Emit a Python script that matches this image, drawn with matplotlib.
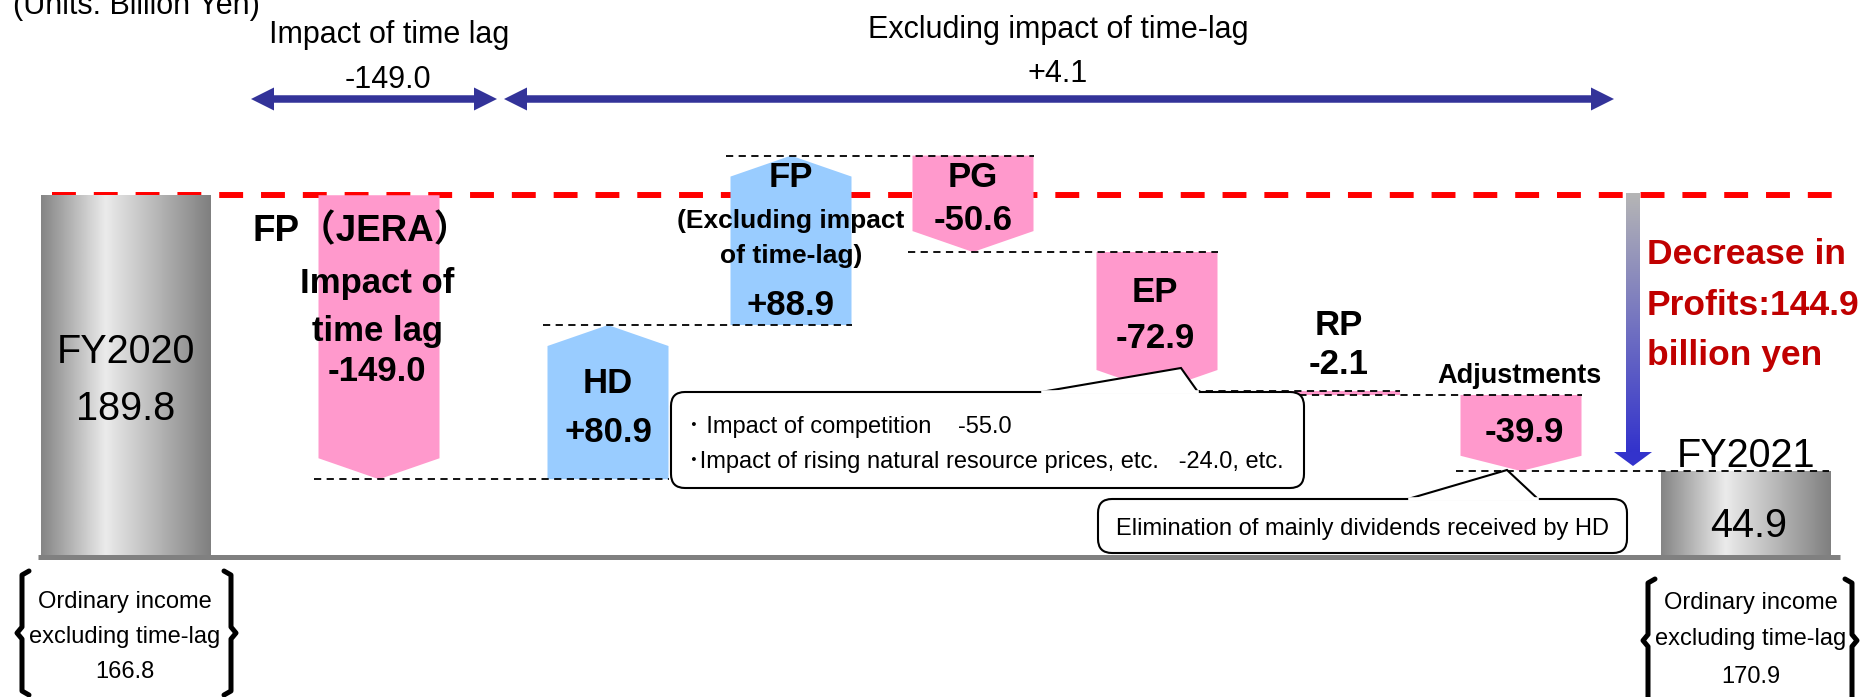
import numpy as np
import matplotlib.pyplot as plt
from matplotlib.patches import Polygon, FancyBboxPatch

plt.rcParams['font.family'] = ['Liberation Sans', 'Noto Sans CJK JP']

# ordinary income bridge FY2020 -> FY2021 (billion yen)
start_label, start_value = 'FY2020', 189.8
end_label, end_value = 'FY2021', 44.9
steps = ['FP（JERA）', 'HD', 'FP', 'PG', 'EP', 'RP', 'Adjustments']
deltas = [-149.0, 80.9, 88.9, -50.6, -72.9, -2.1, -39.9]
lag_impact = -149.0
ex_lag_impact = 4.1
profit_drop = 144.9
ex_lag_income = [166.8, 170.9]
ep_breakdown = [('Impact of competition', -55.0),
                ('Impact of rising natural resource prices, etc.', -24.0)]
adj_note = 'Elimination of mainly dividends received by HD'

W, H = 1872, 697
PX = 1.906      # pixels per billion yen
BASE = 557      # pixel row of the zero line

centers = [126, 379, 608, 791, 973, 1157, 1339, 1521, 1746]
bar_w = 121
cyl_w = 170
tips = [11, 11, 11, 11, 11, 0, 8]
PINK, BLUE, NAVY = '#ff99cc', '#99ccff', '#333399'
BIG = 25        # bold step labels
FY = 28.5

fig = plt.figure(figsize=(W / 100, H / 100), dpi=100)
ax = fig.add_axes([0, 0, 1, 1])
ax.axis('off')


def cylinder(xc, v):
    prof = np.interp(np.linspace(0, 1, 256), [0, 0.38, 1], [0.52, 0.92, 0.5])
    ax.imshow(prof[None, :], cmap='gray', vmin=0, vmax=1, aspect='auto',
              extent=(xc - cyl_w / 2, xc + cyl_w / 2, 0, v),
              interpolation='bilinear', zorder=2)


# red reference line at FY2020 level
ax.plot([52, 1840], [start_value, start_value], color='red', lw=4.3,
        ls=(0, (4, 3)), zorder=1)

cylinder(centers[0], start_value)
cylinder(centers[-1], end_value)

level = start_value
levels = []
for d, xc, tip in zip(deltas, centers[1:-1], tips):
    new = level + d
    l, r = xc - bar_w / 2, xc + bar_w / 2
    if d > 0:
        pts = [(l, level), (r, level), (r, new - tip), (xc, new), (l, new - tip)]
        col = BLUE
    else:
        pts = [(l, level), (r, level), (r, new + tip), (xc, new), (l, new + tip)]
        col = PINK
    ax.add_patch(Polygon(pts, closed=True, fc=col, ec='none', zorder=2))
    levels.append(new)
    level = new

# dashed connectors
rights = [c + bar_w / 2 for c in centers[2:-1]] + [centers[-1] + cyl_w / 2 - 2]
for i, lv in enumerate(levels):
    ax.plot([centers[i + 1] - bar_w / 2 - 5, rights[i]], [lv, lv], color='black',
            lw=1.3, ls=(0, (4, 3)), zorder=3)

ax.plot([38, 1840], [0, 0], color='#808080', lw=3.6, zorder=3, solid_capstyle='butt')
ax.set_xlim(0, W)
ax.set_ylim((BASE - H) / PX, BASE / PX)

# overlay in pixel units for labels, arrows and notes
dx = fig.add_axes([0, 0, 1, 1])
dx.axis('off')


def txt(x, y, s, size, bold=False, ha='center', color='black'):
    dx.text(x, y, s, fontsize=size, fontweight='bold' if bold else 'normal',
            ha=ha, va='baseline', color=color, zorder=8)


def double_arrow(x0, x1, y, hl=23, hw=11.5):
    dx.plot([x0 + hl - 1, x1 - hl + 1], [y, y], color=NAVY, lw=5.4, solid_capstyle='butt')
    dx.add_patch(Polygon([(x0, y), (x0 + hl, y - hw), (x0 + hl, y + hw)], fc=NAVY, ec='none'))
    dx.add_patch(Polygon([(x1, y), (x1 - hl, y - hw), (x1 - hl, y + hw)], fc=NAVY, ec='none'))


def callout(x0, y0, x1, y1, b0, b1, tip):
    dx.add_patch(FancyBboxPatch((x0, y0), x1 - x0, y1 - y0,
                                boxstyle='round,pad=0,rounding_size=14',
                                fc='white', ec='black', lw=1.5, zorder=4))
    dx.add_patch(Polygon([(b0, y0), tip, (b1, y0)], closed=False, fc='white',
                         ec='black', lw=1.5, zorder=5))
    dx.plot([b0 + 1.5, b1 - 1.5], [y0, y0], color='white', lw=2.6, zorder=6)


def bracket(x, y0, y1, s):
    m = (y0 + y1) / 2
    pts = [(x + 7 * s, y0), (x, y0 + 4), (x, m - 6), (x - 5 * s, m),
           (x, m + 6), (x, y1 - 4), (x + 7 * s, y1)]
    dx.plot(*zip(*pts), color='black', lw=3.6, solid_joinstyle='round',
            solid_capstyle='round')


# header
txt(13, 14, '(Units: Billion Yen)', 22, ha='left')
txt(389, 43, 'Impact of time lag', 22)
txt(388, 88, f'{lag_impact:.1f}', 22)
txt(1058, 38, 'Excluding impact of time-lag', 22)
txt(1058, 82, f'{ex_lag_impact:+.1f}', 22)
double_arrow(251, 497, 99)
double_arrow(504, 1614, 99)

# bar labels
txt(centers[0], 363, start_label, FY)
txt(centers[0], 420, f'{start_value:.1f}', FY)
txt(362, 241, steps[0], 26.5, True)
txt(377, 293, 'Impact of', BIG, True)
txt(377, 341, 'time lag', BIG, True)
txt(377, 381, f'{deltas[0]:+.1f}', BIG, True)
txt(centers[2], 393, steps[1], BIG, True)
txt(centers[2], 442, f'{deltas[1]:+.1f}', BIG, True)
txt(centers[3], 187, steps[2], BIG, True)
txt(centers[3], 228, '(Excluding impact', 19, True)
txt(centers[3], 263, 'of time-lag)', 19, True)
txt(centers[3], 315, f'{deltas[2]:+.1f}', BIG, True)
txt(centers[4], 187, steps[3], BIG, True)
txt(centers[4], 230, f'{deltas[3]:+.1f}', BIG, True)
txt(centers[5] - 2, 302, steps[4], BIG, True)
txt(centers[5] - 2, 348, f'{deltas[4]:+.1f}', BIG, True)
txt(centers[6], 335, steps[5], BIG, True)
txt(centers[6], 374, f'{deltas[5]:+.1f}', BIG, True)
txt(centers[7] - 2, 383, steps[6], 19.5, True)
txt(centers[7] + 3, 442, f'{deltas[6]:+.1f}', BIG, True)
txt(centers[-1], 467, end_label, FY)
txt(centers[-1] + 3, 537, f'{end_value:.1f}', FY)

# total decrease arrow
grad = np.linspace([0.71, 0.71, 0.71], [0.2, 0.2, 0.8], 200)[:, None, :]
dx.imshow(grad, aspect='auto', extent=(1626, 1640, 452, 193), interpolation='bilinear')
dx.add_patch(Polygon([(1614, 452), (1652, 452), (1633, 466)], fc='#3333cc', ec='none'))
txt(1647, 264, 'Decrease in', 25.5, True, ha='left', color='#c00000')
txt(1647, 315, f'Profits:{profit_drop:.1f}', 25.5, True, ha='left', color='#c00000')
txt(1647, 365, 'billion yen', 25.5, True, ha='left', color='#c00000')

# notes
callout(671, 392, 1304, 488, 1041, 1198, (1181, 368))
txt(688, 433, f'･ {ep_breakdown[0][0]}', 17, ha='left')
txt(958, 433, f'{ep_breakdown[0][1]:.1f}', 17, ha='left')
txt(688, 468, f'･{ep_breakdown[1][0]}   {ep_breakdown[1][1]:.1f}, etc.', 17, ha='left')
callout(1098, 499, 1627, 553, 1408, 1538, (1507, 470))
txt(1362, 535, adj_note, 17)

# ordinary income excluding time-lag
for xc, x0, x1, y0, y1, offs, v in [(125, 22, 231, 571, 695, (37, 72, 107), ex_lag_income[0]),
                                    (1751, 1648, 1852, 579, 702, (30, 66, 104), ex_lag_income[1])]:
    bracket(x0, y0, y1, 1)
    bracket(x1, y0, y1, -1)
    txt(xc, y0 + offs[0], 'Ordinary income', 17)
    txt(xc, y0 + offs[1], 'excluding time-lag', 17)
    txt(xc, y0 + offs[2], f'{v:.1f}', 17)

dx.set_xlim(0, W)
dx.set_ylim(H, 0)

fig.savefig('out.png', dpi=100)
